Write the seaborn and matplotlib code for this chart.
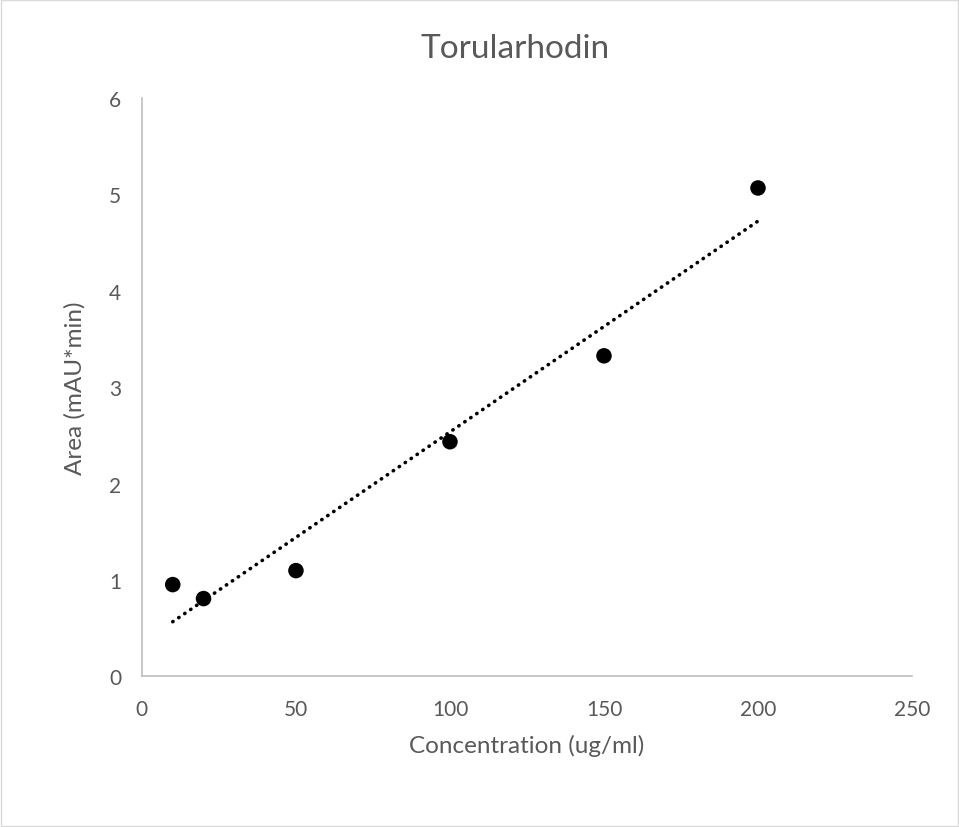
import matplotlib
matplotlib.use("Agg")
import matplotlib.pyplot as plt
import seaborn as sns
import pandas as pd
from matplotlib.patches import Rectangle

concentration = [10, 20, 50, 100, 150, 200]
area = [0.953, 0.808, 1.098, 2.435, 3.326, 5.067]
x_ticks = [0, 50, 100, 150, 200, 250]
y_ticks = [0, 1, 2, 3, 4, 5, 6]

df = pd.DataFrame({"Concentration": concentration, "Area": area})

sns.set_theme(style="white")
plt.rcParams['font.family'] = ['Lato', 'DejaVu Sans']

fig = plt.figure(figsize=(9.59, 8.28), dpi=100)
ax = fig.add_axes([0.148, 0.1818, 0.803, 0.6986])

sns.regplot(data=df, x="Concentration", y="Area", ax=ax, ci=None,
            scatter_kws=dict(s=125, color="black", edgecolor="none", alpha=1, zorder=3),
            line_kws=dict(color="black", linestyle=(0, (0.1, 1.9)), linewidth=2.6,
                          dash_capstyle="round"))

ax.set_xlim(0, 250)
ax.set_ylim(0, 6)
ax.set_xticks(x_ticks)
ax.set_yticks(y_ticks)
grey = "#595959"
ax.tick_params(axis="x", length=0, labelsize=15, labelcolor=grey, pad=16)
ax.tick_params(axis="y", length=0, labelsize=15, labelcolor=grey, pad=15)
for s in ["top", "right"]:
    ax.spines[s].set_visible(False)
for s in ["left", "bottom"]:
    ax.spines[s].set_color("#bfbfbf")
    ax.spines[s].set_linewidth(1.2)

ax.set_xlabel("Concentration (ug/ml)", fontsize=17.5, color=grey, labelpad=11)
ax.set_ylabel("Area (mAU*min)", fontsize=17.5, color=grey, labelpad=17)
fig.text(0.537, 0.941, "Torularhodin", ha="center", va="center", fontsize=24, color=grey)

fig.patches.append(Rectangle((0.001, 0.001), 0.998, 0.998, transform=fig.transFigure,
                             fill=False, edgecolor="#d9d9d9", linewidth=1))

fig.savefig("out.png", dpi=100)
